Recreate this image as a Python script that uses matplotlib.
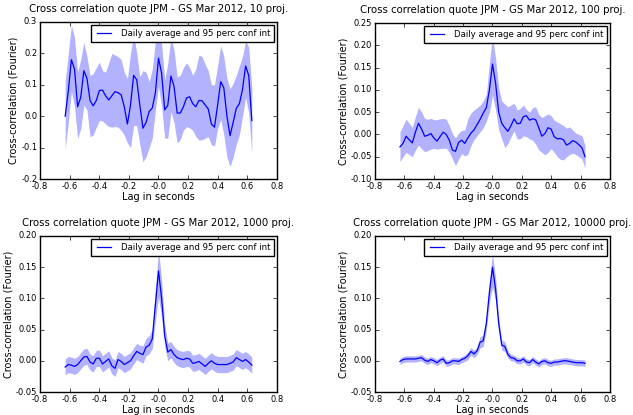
# Cross-correlation of JPM - GS quotes, four projection counts
import numpy as np
import matplotlib.pyplot as plt

lags = np.linspace(-0.63, 0.63, 61)

# 10 projections
mean_10 = [0.0, 0.08, 0.18, 0.15, 0.03, 0.06, 0.145, 0.12, 0.05, 0.033,
           0.05, 0.082, 0.083, 0.065, 0.052, 0.065, 0.078, 0.075, 0.068, 0.03,
           -0.025, 0.035, 0.13, 0.116, 0.035, -0.038, -0.02, 0.015, 0.026, 0.075,
           0.185, 0.137, 0.02, 0.035, 0.128, 0.095, 0.01, 0.01, 0.03, 0.058,
           0.062, 0.04, 0.03, 0.05, 0.049, 0.036, 0.023, -0.025, -0.035, 0.035,
           0.11, 0.09, 0.0, -0.062, -0.02, 0.025, 0.04, 0.085, 0.16, 0.13,
           -0.014]
upper_10 = [0.11, 0.2, 0.29, 0.25, 0.14, 0.18, 0.235, 0.19, 0.13, 0.135,
            0.155, 0.172, 0.145, 0.14, 0.17, 0.2, 0.195, 0.19, 0.18, 0.14,
            0.12, 0.2, 0.26, 0.2, 0.125, 0.145, 0.14, 0.11, 0.15, 0.24,
            0.275, 0.23, 0.115, 0.17, 0.25, 0.21, 0.125, 0.13, 0.155, 0.17,
            0.155, 0.13, 0.15, 0.195, 0.19, 0.165, 0.145, 0.1, 0.1, 0.16,
            0.225, 0.19, 0.12, 0.087, 0.105, 0.13, 0.16, 0.19, 0.24, 0.22,
            0.09]
lower_10 = [-0.105, -0.02, 0.08, 0.03, -0.07, -0.04, 0.035, 0.02, -0.065, -0.06,
            -0.035, -0.013, -0.015, -0.025, -0.033, -0.035, -0.033, -0.035, -0.045, -0.06,
            -0.085, -0.1, -0.03, -0.03, -0.09, -0.145, -0.13, -0.1, -0.07, 0.02,
            0.095, 0.03, -0.07, -0.07, 0.015, -0.02, -0.085, -0.075, -0.045, -0.033,
            -0.037, -0.045, -0.065, -0.076, -0.075, -0.07, -0.065, -0.09, -0.095, -0.04,
            -0.01, -0.06, -0.13, -0.16, -0.13, -0.09, -0.06, 0.0, 0.06, 0.01,
            -0.12]

# 100 projections
mean_100 = [-0.028, -0.02, -0.004, -0.012, -0.019, 0.005, 0.025, 0.012, -0.004, -0.002,
            0.002, -0.008, -0.015, -0.005, 0.005, 0.0, -0.013, -0.035, -0.038, -0.018,
            -0.013, -0.02, -0.008, 0.003, 0.01, 0.022, 0.034, 0.048, 0.06, 0.1,
            0.158, 0.115, 0.05, 0.025, 0.015, 0.007, 0.02, 0.035, 0.024, 0.025,
            0.04, 0.042, 0.032, 0.035, 0.033, 0.015, -0.004, 0.002, 0.015, 0.012,
            -0.005, -0.01, -0.009, -0.012, -0.024, -0.02, -0.014, -0.017, -0.023, -0.03,
            -0.05]
upper_100 = [0.006, 0.02, 0.034, 0.025, 0.016, 0.04, 0.061, 0.05, 0.036, 0.034,
             0.036, 0.033, 0.033, 0.035, 0.036, 0.034, 0.02, 0.002, -0.008, 0.003,
             0.009, 0.01, 0.035, 0.048, 0.055, 0.06, 0.066, 0.075, 0.09, 0.16,
             0.22, 0.17, 0.105, 0.075, 0.068, 0.062, 0.066, 0.07, 0.055, 0.058,
             0.066, 0.056, 0.05, 0.06, 0.062, 0.045, 0.038, 0.042, 0.046, 0.042,
             0.032, 0.028, 0.024, 0.02, 0.014, 0.017, 0.01, 0.003, 0.0, -0.003,
             -0.025]
lower_100 = [-0.061, -0.05, -0.04, -0.045, -0.05, -0.035, -0.024, -0.032, -0.039, -0.036,
             -0.033, -0.031, -0.033, -0.032, -0.031, -0.031, -0.04, -0.055, -0.07, -0.055,
             -0.043, -0.048, -0.045, -0.025, -0.012, -0.003, 0.006, 0.015, 0.03, 0.05,
             0.088, 0.055, 0.01, -0.01, -0.03, -0.02, -0.005, 0.008, -0.01, -0.01,
             -0.003, -0.005, -0.01, -0.013, -0.022, -0.035, -0.04, -0.046, -0.04, -0.032,
             -0.04, -0.05, -0.056, -0.057, -0.05, -0.045, -0.042, -0.045, -0.05, -0.055,
             -0.076]

# 1000 projections
mean_1000 = [-0.01, -0.006, -0.007, -0.009, -0.006, 0.0, 0.006, 0.007, -0.002, -0.005,
             0.004, 0.004, -0.005, -0.001, 0.003, -0.008, -0.012, 0.002, -0.001, -0.006,
             -0.003, 0.0, 0.008, 0.015, 0.012, 0.01, 0.022, 0.025, 0.035, 0.09,
             0.144, 0.1, 0.04, 0.014, 0.018, 0.01, 0.005, 0.003, 0.002, 0.004,
             0.003, -0.004, -0.003, -0.001, -0.005, -0.009, -0.004, 0.0, -0.004, -0.006,
             -0.006, -0.006, -0.006, -0.004, -0.002, 0.005, 0.002, -0.001, 0.002, -0.002,
             -0.007]
upper_1000 = [0.003, 0.007, 0.006, 0.004, 0.007, 0.013, 0.019, 0.02, 0.011, 0.008,
              0.017, 0.017, 0.008, 0.012, 0.016, 0.005, 0.001, 0.015, 0.012, 0.007,
              0.01, 0.013, 0.021, 0.028, 0.025, 0.024, 0.036, 0.04, 0.05, 0.115,
              0.178, 0.13, 0.058, 0.028, 0.031, 0.023, 0.018, 0.016, 0.015, 0.017,
              0.016, 0.009, 0.01, 0.012, 0.008, 0.004, 0.009, 0.013, 0.009, 0.007,
              0.007, 0.007, 0.007, 0.009, 0.011, 0.018, 0.015, 0.012, 0.015, 0.011,
              0.006]
lower_1000 = [-0.022, -0.019, -0.02, -0.022, -0.019, -0.013, -0.007, -0.006, -0.015, -0.018,
              -0.009, -0.009, -0.018, -0.014, -0.01, -0.021, -0.025, -0.011, -0.014, -0.019,
              -0.016, -0.013, -0.005, 0.002, -0.001, -0.004, 0.008, 0.011, 0.02, 0.065,
              0.102, 0.07, 0.022, 0.0, 0.005, -0.003, -0.008, -0.01, -0.011, -0.009,
              -0.01, -0.017, -0.016, -0.014, -0.018, -0.022, -0.017, -0.013, -0.017, -0.019,
              -0.019, -0.019, -0.019, -0.017, -0.015, -0.008, -0.011, -0.014, -0.011, -0.015,
              -0.02]

# 10000 projections
mean_10000 = [-0.001, 0.002, 0.003, 0.003, 0.003, 0.003, 0.004, 0.005, 0.001, -0.001,
              0.002, 0.0, -0.003, 0.001, 0.003, -0.004, -0.003, 0.0, 0.0, -0.001,
              0.002, 0.004, 0.008, 0.015, 0.011, 0.016, 0.03, 0.032, 0.06, 0.11,
              0.15, 0.115, 0.06, 0.025, 0.023, 0.01, 0.005, 0.004, 0.0, 0.0,
              0.003, -0.002, -0.003, 0.002, -0.002, -0.005, -0.001, 0.0, -0.003, -0.004,
              -0.002, -0.002, -0.001, 0.0, 0.0, -0.001, -0.002, -0.003, -0.003, -0.003,
              -0.004]
upper_10000 = [0.004, 0.007, 0.008, 0.008, 0.008, 0.008, 0.009, 0.01, 0.006, 0.004,
               0.007, 0.005, 0.002, 0.006, 0.008, 0.001, 0.002, 0.005, 0.005, 0.004,
               0.007, 0.009, 0.014, 0.021, 0.017, 0.022, 0.039, 0.041, 0.07, 0.127,
               0.172, 0.133, 0.07, 0.033, 0.031, 0.016, 0.01, 0.009, 0.005, 0.005,
               0.008, 0.003, 0.002, 0.007, 0.003, 0.0, 0.004, 0.005, 0.002, 0.001,
               0.003, 0.003, 0.004, 0.005, 0.005, 0.004, 0.003, 0.002, 0.002, 0.002,
               0.001]
lower_10000 = [-0.006, -0.003, -0.002, -0.002, -0.002, -0.002, -0.001, 0.0, -0.004, -0.006,
               -0.003, -0.005, -0.008, -0.004, -0.002, -0.009, -0.008, -0.005, -0.005, -0.006,
               -0.003, -0.001, 0.002, 0.009, 0.005, 0.01, 0.021, 0.023, 0.05, 0.093,
               0.118, 0.097, 0.05, 0.017, 0.015, 0.004, 0.0, -0.001, -0.005, -0.005,
               -0.002, -0.007, -0.008, -0.003, -0.007, -0.01, -0.006, -0.005, -0.008, -0.009,
               -0.007, -0.007, -0.006, -0.005, -0.005, -0.006, -0.007, -0.008, -0.008, -0.008,
               -0.009]

panels = [
    (10, mean_10, lower_10, upper_10, (-0.2, 0.3), 0.1, '%.1f'),
    (100, mean_100, lower_100, upper_100, (-0.1, 0.25), 0.05, '%.2f'),
    (1000, mean_1000, lower_1000, upper_1000, (-0.05, 0.2), 0.05, '%.2f'),
    (10000, mean_10000, lower_10000, upper_10000, (-0.05, 0.2), 0.05, '%.2f'),
]

# axes boxes in pixels: left, top, right, bottom
W, H = 633, 415
boxes = [(40, 22, 277, 179), (375, 23, 610, 179),
         (40, 236, 277, 392), (375, 236, 610, 392)]

plt.style.use('classic')
plt.rcParams['font.family'] = 'DejaVu Sans'
fig = plt.figure(figsize=(W / 100, H / 100), dpi=100, facecolor='white')

for (nproj, mean, lo, hi, ylim, ystep, fmt), (l, t, r, b) in zip(panels, boxes):
    ax = fig.add_axes([l / W, 1 - b / H, (r - l) / W, (b - t) / H])
    ax.fill_between(lags, lo, hi, color='blue', alpha=0.3, linewidth=0)
    ax.plot(lags, mean, color='blue', linewidth=0.9,
            label='Daily average and 95 perc conf int')
    ax.set_xlim(-0.8, 0.8)
    ax.set_ylim(*ylim)
    ax.set_xticks(np.arange(-0.8, 0.81, 0.2))
    ax.set_yticks(np.arange(ylim[0], ylim[1] + ystep / 2, ystep))
    ax.xaxis.set_major_formatter(plt.FormatStrFormatter('%.1f'))
    ax.yaxis.set_major_formatter(plt.FormatStrFormatter(fmt))
    ax.tick_params(labelsize=6, length=3, pad=2)
    ax.set_xlabel('Lag in seconds', fontsize=7, labelpad=1)
    ax.set_ylabel('Cross-correlation (Fourier)', fontsize=7, labelpad=2)
    ax.set_title('Cross correlation quote JPM - GS Mar 2012, %d proj.' % nproj,
                 fontsize=7.3, y=1.02)
    ax.legend(loc='upper right', fontsize=6.2, handlelength=2.2,
              borderaxespad=0.35, borderpad=0.45, fancybox=False)

fig.savefig('out.png', dpi=100, facecolor='white')
